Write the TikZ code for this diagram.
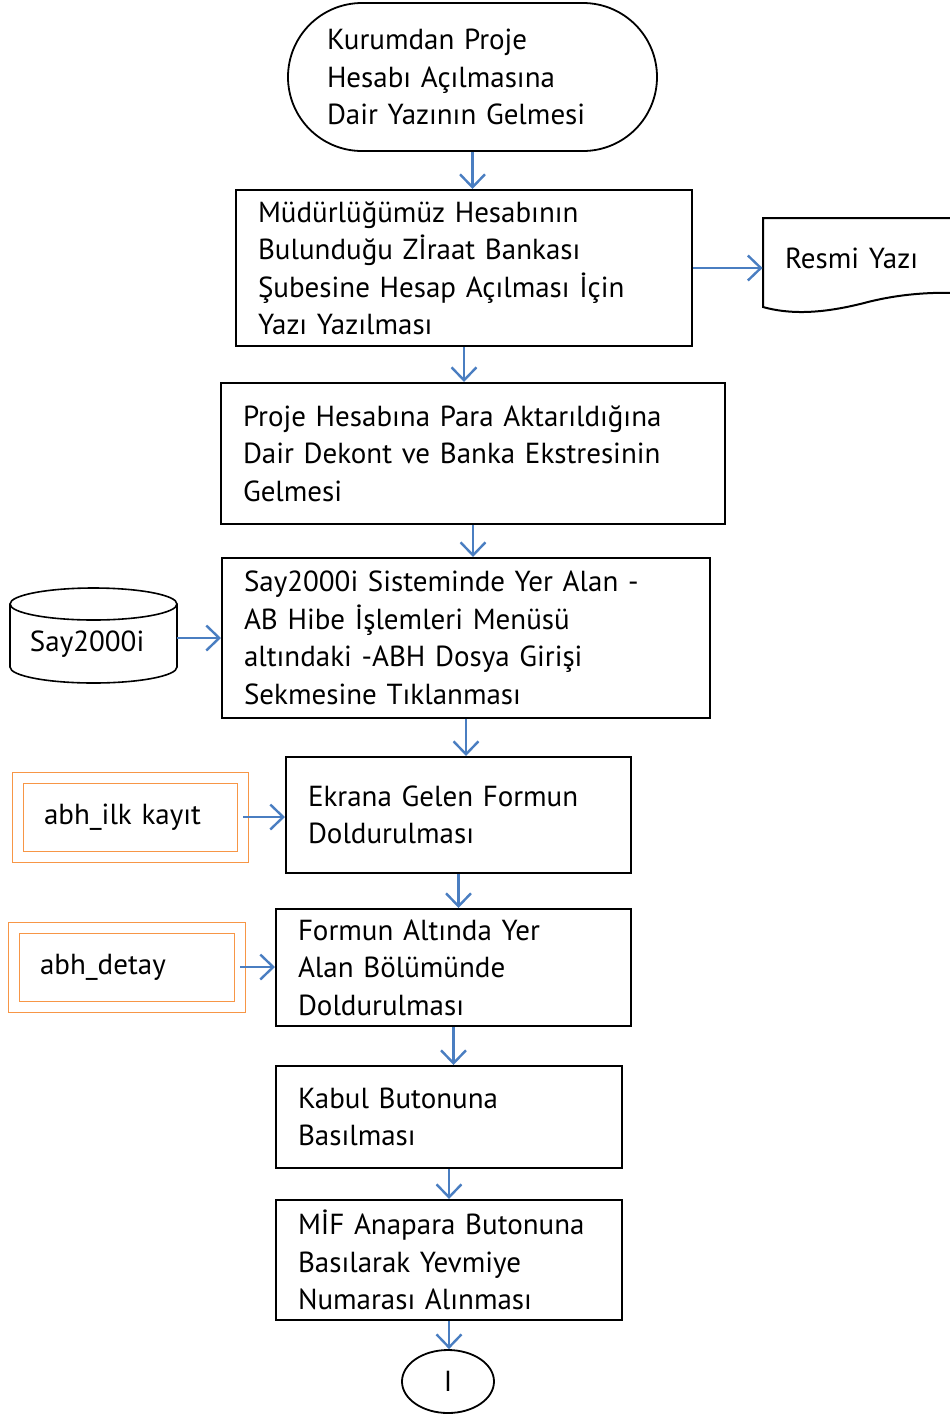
\documentclass[tikz,border=0pt]{standalone}
\usepackage{fontspec}
\setmainfont{PT Sans}
\usetikzlibrary{arrows.meta,shapes.geometric}
\definecolor{arrowblue}{RGB}{74,126,193}
\definecolor{boxorange}{RGB}{247,150,70}

\begin{document}
\begin{tikzpicture}[x=0.5pt, y=-0.5pt,
    every node/.style={font=\fontsize{14.5}{18.75}\selectfont, align=left},
    box/.style={draw, line width=1pt, inner xsep=11pt, inner ysep=0pt},
    refbox/.style={draw=boxorange, double=white, double distance=5pt, line width=0.5pt, inner xsep=13.25pt, minimum height=39.5pt},
    arr/.style={draw=arrowblue, line width=1.2pt, -{Straight Barb[length=6.5pt, width=12.5pt]}}]
    \useasboundingbox (0, 0) rectangle (949, 1415);
    \node (a) [draw, line width=0.9pt, rounded corners=37pt, minimum height=74pt, inner xsep=19.5pt, text width=145.5pt] at (472.5, 77) {Kurumdan Proje\\ Hesabı Açılmasına\\ Dair Yazının Gelmesi};
    \node (b) [box, text width=206pt, minimum height=78pt] at (464, 268) {Müdürlüğümüz Hesabının\\ Bulunduğu Zİraat Bankası\\ Şubesine Hesap Açılması İçin\\ Yazı Yazılması};
    \node (c) [inner xsep=11pt, text width=71pt, minimum height=40pt] at (856, 258) {Resmi Yazı};
    \node (d) [box, text width=230pt, minimum height=70.5pt] at (473, 453.5) {Proje Hesabına Para Aktarıldığına\\ Dair Dekont ve Banka Ekstresinin\\ Gelmesi};
    \node (e) [box, text width=222pt, minimum height=80pt] at (466, 638) {Say2000i Sisteminde Yer Alan -\\ AB Hibe İşlemleri Menüsü\\ altındaki -ABH Dosya Girişi\\ Sekmesine Tıklanması};
    \node (f) [inner xsep=10pt, text width=63.5pt] at (93.5, 644) {Say2000i};
    \node (g) [box, text width=150.5pt, minimum height=58pt] at (458.5, 815) {Ekrana Gelen Formun\\ Doldurulması};
    \node (h) [refbox, text width=86pt] at (130, 817) {abh\_ilk kayıt};
    \node (i) [box, text width=155.5pt, minimum height=58.5pt] at (453.5, 967.5) {Formun Altında Yer\\ Alan Bölümünde\\ Doldurulması};
    \node (j) [refbox, text width=86.5pt] at (126.5, 967) {abh\_detay};
    \node (k) [box, text width=151pt, minimum height=51pt] at (449, 1117) {Kabul Butonuna\\ Basılması};
    \node (l) [box, text width=151pt, minimum height=60pt] at (449, 1260) {MİF Anapara Butonuna\\ Basılarak Yevmiye\\ Numarası Alınması};
    \node (m) [draw, ellipse, line width=0.9pt, inner sep=0pt, minimum width=46pt, minimum height=31.5pt] at (448, 1381.5) {I};

    \draw [line width=1pt] (960, 218) -- (763, 218) -- (763, 307) .. controls (795, 316) and (830, 312) .. (868, 302) .. controls (900, 294) and (930, 292) .. (960, 293);
    \draw [line width=0.8pt] (93.5, 604) ellipse [x radius=41.75pt, y radius=8pt];
    \draw [line width=0.8pt] (10, 604) -- (10, 667) arc [start angle=180, end angle=360, x radius=41.75pt, y radius=8pt] -- (177, 604);

    \draw [arr] (a.south) -- (a.south |- b.north);
    \draw [arr] (b.east) -- (b.east -| c.west);
    \draw [arr] (b.south) -- (b.south |- d.north);
    \draw [arr] (d.south) -- (d.south |- e.north);
    \draw [arr] (f.east |- e.west) -- (e.west);
    \draw [arr] (e.south) -- (e.south |- g.north);
    \draw [arr] (h.east) -- (h.east -| g.west);
    \draw [arr] (g.south) -- (g.south |- i.north);
    \draw [arr] (j.east) -- (j.east -| i.west);
    \draw [arr] (i.south) -- (i.south |- k.north);
    \draw [arr] (k.south) -- (k.south |- l.north);
    \draw [arr] (l.south) -- (l.south |- m.north);
\end{tikzpicture}
\end{document}
